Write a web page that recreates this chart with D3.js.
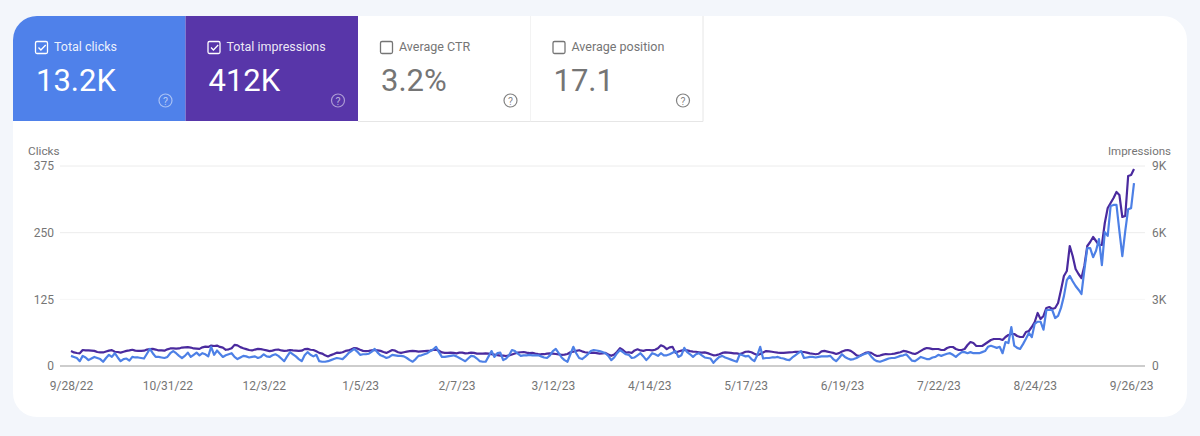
<!DOCTYPE html>
<html>
<head>
<meta charset="utf-8">
<script src="https://cdn.jsdelivr.net/npm/d3@7"></script>
<style>
  html, body { margin: 0; padding: 0; background: #f3f6fb; }
  svg { display: block; font-family: Roboto, sans-serif; }
</style>
</head>
<body>
<svg id="chart" width="1200" height="436"></svg>
<script>
// scorecards
var tileNames = ["Total clicks", "Total impressions", "Average CTR", "Average position"];
var tileValues = ["13.2K", "412K", "3.2%", "17.1"];
var tileChecked = [true, true, false, false];

// daily values, first day 9/28/22
var impressions = [
  675,610,585,570,720,700,700,690,680,630,615,610,650,690,715,640,630,600,640,680,700,730,690,680,680,690,740,760,770,740,
  700,700,690,750,790,790,780,790,830,840,850,830,790,780,770,840,870,860,920,900,920,860,830,730,750,800,950,930,850,800,
  760,720,700,740,770,760,730,700,670,690,730,740,700,680,690,720,700,690,680,690,760,770,730,720,660,590,560,480,430,490,
  540,600,590,620,680,700,750,810,790,730,680,670,680,710,720,700,680,630,590,650,720,690,620,590,620,650,670,680,670,650,
  660,670,680,690,720,730,690,610,590,590,600,590,570,600,600,570,580,600,590,560,560,560,570,560,530,510,490,470,470,450,
  480,520,560,600,620,630,600,580,590,560,540,530,530,560,570,560,540,520,500,510,540,620,640,680,710,660,620,600,590,600,
  580,560,570,590,520,460,520,640,800,720,600,620,590,700,750,700,680,720,720,700,730,800,930,880,760,840,860,590,650,690,
  720,700,670,650,640,620,600,610,580,530,480,490,530,590,610,600,590,570,570,540,580,640,650,620,550,490,540,610,670,660,
  640,620,600,590,590,600,610,620,640,640,640,630,600,570,550,530,550,660,680,650,620,590,540,580,650,700,720,680,590,480,
  450,520,590,620,590,510,450,470,510,540,530,540,560,590,620,680,660,620,570,540,600,680,760,810,790,760,
  765,765,720,720,810,855,855,765,720,720,765,945,1080,1035,900,900,900,990,1080,1170,1215,1215,1215,1170,1305,1395,1440,1440,1350,1305,
  1305,1530,1575,1755,1980,2385,2115,2250,2610,2655,2565,2610,2835,3420,4050,4275,5400,4950,4365,4140,3960,4500,5400,5580,5805,5625,5445,5445,6435,7110,
  7335,7560,7830,7695,6705,6750,8550,8595,8865
];
var clicks = [
  19,17,15,9,19,16,11,14,17,15,13,8,15,21,17,24,16,9,13,14,10,17,16,16,15,14,23,32,24,17,
  17,16,15,17,24,28,24,19,15,19,25,17,21,25,20,24,22,18,36,21,29,23,17,20,22,24,17,13,16,19,
  18,16,17,18,15,17,22,18,17,20,22,19,14,9,18,26,22,18,13,9,20,26,21,18,21,9,8,8,9,11,
  13,15,14,13,18,24,28,32,27,21,22,22,23,27,32,25,20,18,15,17,21,20,19,19,18,15,11,8,13,19,
  20,22,24,28,31,36,26,17,17,18,19,20,18,15,12,9,14,19,18,14,9,8,8,18,28,17,24,25,11,14,
  20,30,28,23,19,20,20,21,20,20,20,18,16,15,20,28,32,24,16,11,8,22,36,24,15,13,17,22,28,30,
  29,28,26,24,19,11,16,24,30,26,22,21,15,16,20,24,18,11,17,24,22,19,24,20,20,22,25,28,17,20,
  34,26,22,17,22,24,20,16,15,14,6,12,17,19,16,14,12,10,8,22,20,18,19,13,9,20,36,14,15,15,
  16,16,17,15,14,12,11,16,20,24,28,15,16,17,17,16,17,18,18,18,19,13,9,15,22,17,14,12,13,15,
  18,21,23,25,18,12,9,8,10,12,14,15,15,17,19,20,22,16,10,9,13,17,15,13,13,16,
  17,21,19,21,23,24,21,17,22,26,26,24,26,24,24,24,26,28,36,38,36,34,36,24,45,43,73,38,34,32,
  41,51,62,54,79,83,83,68,105,105,105,90,94,109,131,161,169,159,150,143,135,180,221,221,204,216,238,189,251,244,
  300,302,302,253,206,253,294,296,343
];

// axes
var clickTicks = [0, 125, 250, 375];
var impressionTicks = [0, 3000, 6000, 9000];
var dateTicks = ["2022-09-28", "2022-10-31", "2022-12-03", "2023-01-05", "2023-02-07", "2023-03-12",
  "2023-04-14", "2023-05-17", "2023-06-19", "2023-07-22", "2023-08-24", "2023-09-26"];

var startDay = new Date(Date.UTC(2022, 8, 28));
var days = impressions.map(function(d, i) { return d3.utcDay.offset(startDay, i); });

var x = d3.scaleUtc().domain([startDay, days[days.length - 1]]).range([71, 1134]);
var yClicks = d3.scaleLinear().domain([0, 375]).range([366, 166]);
var yImpressions = d3.scaleLinear().domain([0, 9000]).range([366, 166]);

var svg = d3.select("#chart");

svg.append("clipPath").attr("id", "card-clip")
  .append("rect")
  .attr("x", 13).attr("y", 16).attr("width", 1174).attr("height", 401).attr("rx", 24);

var card = svg.append("g").attr("clip-path", "url(#card-clip)");
card.append("rect")
  .attr("x", 13).attr("y", 16).attr("width", 1174).attr("height", 401)
  .attr("fill", "#fff");

// tiles
var tileX = d3.scaleBand().domain(d3.range(tileNames.length)).range([13, 703]);
var tileFill = ["#4f81ea", "#5836a9", "#fff", "#fff"];

var tile = card.selectAll("g.tile").data(tileNames).enter()
  .append("g")
  .attr("class", "tile")
  .attr("transform", function(d, i) { return "translate(" + tileX(i) + ",16)"; });

tile.append("rect")
  .attr("x", 0).attr("y", 0)
  .attr("width", tileX.bandwidth()).attr("height", 105)
  .attr("fill", function(d, i) { return tileFill[i]; });

// hairlines around the two unselected tiles
tile.filter(function(d, i) { return i > 1; }).append("path")
  .attr("d", "M" + tileX.bandwidth() + ",0V105.5H0")
  .attr("fill", "none")
  .attr("stroke", "#e6e6e6");

function ink(d, i) { return tileChecked[i] ? "#fff" : "#757575"; }

tile.append("rect")
  .attr("x", 22.5).attr("y", 25.5)
  .attr("width", 12).attr("height", 12).attr("rx", 1.5)
  .attr("fill", "none")
  .attr("stroke", ink)
  .attr("stroke-width", 1.3);

tile.filter(function(d, i) { return tileChecked[i]; }).append("path")
  .attr("d", "M25.5,31.5l2.4,2.5l4.8,-5")
  .attr("fill", "none")
  .attr("stroke", "#fff")
  .attr("stroke-width", 1.3);

tile.append("text")
  .attr("x", 41).attr("y", 34.5)
  .attr("font-size", 12.5)
  .attr("fill", ink)
  .attr("fill-opacity", function(d, i) { return tileChecked[i] ? 0.9 : 1; })
  .text(function(d) { return d; });

tile.append("text")
  .attr("x", 23).attr("y", 75)
  .attr("font-size", 31)
  .attr("fill", ink)
  .text(function(d, i) { return tileValues[i]; });

tile.append("circle")
  .attr("cx", 152.5).attr("cy", 84.5).attr("r", 6.5)
  .attr("fill", "none")
  .attr("stroke", ink)
  .attr("stroke-opacity", function(d, i) { return tileChecked[i] ? 0.5 : 0.9; })
  .attr("stroke-width", 1.2);

tile.append("text")
  .attr("x", 152.5).attr("y", 88.5)
  .attr("text-anchor", "middle")
  .attr("font-size", 10.5)
  .attr("fill", ink)
  .attr("fill-opacity", function(d, i) { return tileChecked[i] ? 0.6 : 0.9; })
  .text("?");

// axes
var plot = card.append("g");

var leftAxis = plot.append("g")
  .attr("transform", "translate(60,0)")
  .call(d3.axisLeft(yClicks).tickValues(clickTicks).tickSize(0).tickPadding(6));

var rightAxis = plot.append("g")
  .attr("transform", "translate(1145,0)")
  .call(d3.axisRight(yImpressions).tickValues(impressionTicks).tickSize(0).tickPadding(7)
    .tickFormat(function(d) { return d === 0 ? "0" : d / 1000 + "K"; }));

var bottomAxis = plot.append("g")
  .attr("transform", "translate(0,366)")
  .call(d3.axisBottom(x)
    .tickValues(dateTicks.map(function(d) { return new Date(d + "T00:00:00Z"); }))
    .tickSize(0).tickPadding(15)
    .tickFormat(function(d) {
      return (d.getUTCMonth() + 1) + "/" + d.getUTCDate() + "/" + String(d.getUTCFullYear()).slice(2);
    }));

[leftAxis, rightAxis, bottomAxis].forEach(function(axis) {
  axis.select(".domain").remove();
  axis.selectAll("text")
    .attr("font-family", "Roboto, sans-serif")
    .attr("font-size", 12)
    .attr("fill", "#757575");
});

// grid
plot.selectAll("line.grid").data(clickTicks).enter()
  .append("line")
  .attr("class", "grid")
  .attr("x1", 60).attr("x2", 1145)
  .attr("y1", function(d) { return yClicks(d); })
  .attr("y2", function(d) { return yClicks(d); })
  .attr("stroke", function(d) { return d === 0 ? "#bdbdbd" : (d === 125 ? "#f6f6f6" : "#ececec"); })
  .attr("stroke-width", function(d) { return d === 0 ? 1.5 : 1; });

plot.append("text")
  .attr("x", 28).attr("y", 155)
  .attr("font-size", 11.8).attr("fill", "#757575")
  .text("Clicks");

plot.append("text")
  .attr("x", 1171).attr("y", 155)
  .attr("text-anchor", "end")
  .attr("font-size", 11.5).attr("fill", "#757575")
  .text("Impressions");

// lines
var impressionLine = d3.line()
  .x(function(d, i) { return x(days[i]); })
  .y(function(d) { return yImpressions(d); });

var clickLine = d3.line()
  .x(function(d, i) { return x(days[i]); })
  .y(function(d) { return yClicks(d); });

plot.append("path")
  .datum(impressions)
  .attr("d", impressionLine)
  .attr("fill", "none")
  .attr("stroke", "#4a2a9e")
  .attr("stroke-width", 2.2)
  .attr("stroke-linejoin", "round");

plot.append("path")
  .datum(clicks)
  .attr("d", clickLine)
  .attr("fill", "none")
  .attr("stroke", "#4d80e6")
  .attr("stroke-width", 2.2)
  .attr("stroke-linejoin", "round");
</script>
</body>
</html>
